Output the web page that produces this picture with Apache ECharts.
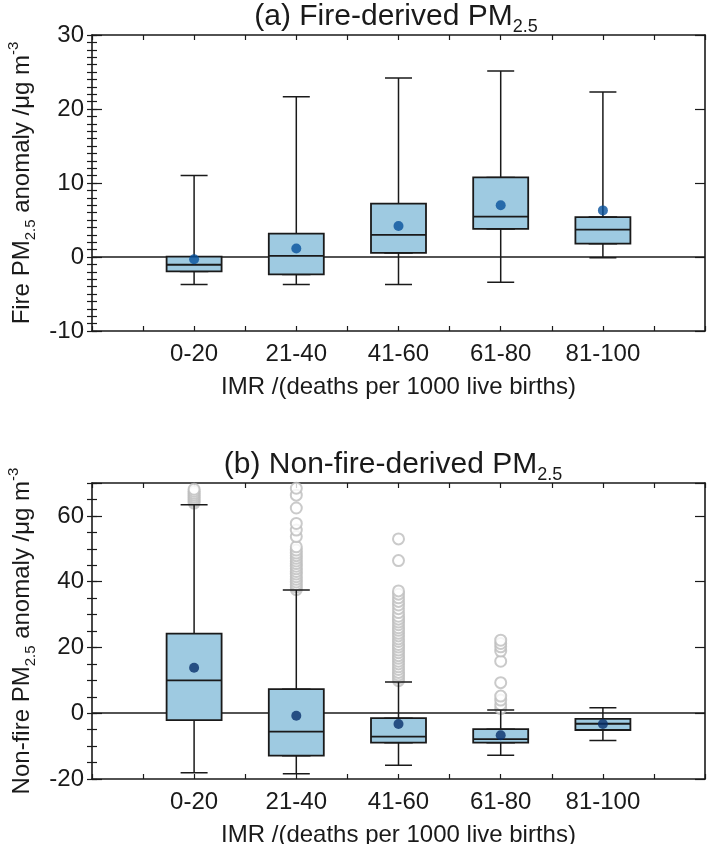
<!DOCTYPE html>
<html>
<head>
<meta charset="UTF-8">
<title>PM2.5 anomaly by IMR</title>
<script src="https://cdn.jsdelivr.net/npm/echarts@6/dist/echarts.min.js"></script>
<style>
  html, body { margin: 0; padding: 0; background: #fff; }
  #chart { width: 709px; height: 844px; }
</style>
</head>
<body>
<div id="chart"></div>
<script>
// IMR classes (deaths per 1000 live births)
var categories = ['0-20', '21-40', '41-60', '61-80', '81-100'];

// (a) fire-derived PM2.5 anomaly
var fireLow = [-3.7, -3.7, -3.7, -3.4, -0.1];
var fireQ1 = [-1.95, -2.35, 0.55, 3.8, 1.8];
var fireMedian = [-1.05, 0.15, 3.0, 5.45, 3.7];
var fireQ3 = [0.05, 3.15, 7.2, 10.75, 5.4];
var fireHigh = [11.0, 21.65, 24.2, 25.15, 22.3];
var fireMean = [-0.3, 1.15, 4.2, 7.0, 6.3];

// (b) non-fire-derived PM2.5 anomaly
var nonFireLow = [-18.1, -18.4, -15.8, -12.8, -8.3];
var nonFireQ1 = [-2.1, -12.9, -8.95, -8.95, -5.1];
var nonFireMedian = [10.0, -5.6, -7.1, -7.9, -3.2];
var nonFireQ3 = [24.2, 7.3, -1.5, -4.85, -1.7];
var nonFireHigh = [63.4, 37.5, 9.5, 1.0, 1.7];
var nonFireMean = [13.8, -0.75, -3.3, -6.7, -3.3];

// outliers of (b), one list per IMR class
var outliers020 = [63.9, 64.5, 65.1, 65.7, 66.3, 66.9, 67.5, 68.1];
var outliers2140 = [37.6, 38.4, 39.1, 39.9, 40.7, 41.5, 42.3, 43.1, 43.9, 44.7, 45.5, 46.3,
  47.1, 47.9, 48.7, 49.6, 50.6, 53.7, 55.7, 57.7, 62.4, 66.3, 68.4];
var outliers4160 = [9.9, 10.7, 11.6, 12.4, 13.3, 14.1, 15.0, 15.8, 16.7, 17.5, 18.4, 19.2,
  20.1, 20.9, 21.8, 22.6, 23.5, 24.3, 25.2, 26.0, 26.9, 27.7, 28.6, 29.5, 30.6, 31.8,
  32.9, 34.0, 35.1, 36.2, 37.2, 46.4, 53.0];
var outliers6180 = [1.4, 2.6, 4.0, 5.2, 9.3, 15.8, 18.9, 20.2, 21.2, 22.2];
var outliers81100 = [];

var fireTicks = { min: -10, max: 30, major: 10, minor: 1 };
var nonFireTicks = { min: -20, max: 70, major: 20, minor: 5 };

var INK = '#1a1a1a';
var BOX_FILL = '#9ecae1';
var FONT = '"Liberation Sans", Arial, Helvetica, sans-serif';

var chart = echarts.init(document.getElementById('chart'));

function nameRich(size) {
  return {
    n: { fontSize: size, lineHeight: 32, color: INK, fontFamily: FONT },
    s: { fontSize: Math.round(size * 0.62), lineHeight: 15, verticalAlign: 'bottom', color: INK, fontFamily: FONT },
    p: { fontSize: Math.round(size * 0.62), lineHeight: 15, verticalAlign: 'top', color: INK, fontFamily: FONT }
  };
}

function lineStyle(w) {
  return { color: INK, width: w };
}

var grids = [];
var xAxes = [];
var yAxes = [];
var series = [];

function addPanel(top, ticks, yName, low, q1, med, q3, high, mean, meanColor, outlierLists) {
  var g = grids.length;
  // outer grid: frame, ticks, names
  grids.push({ left: 92, top: top, width: 613, height: 296, outerBoundsMode: 'none', containLabel: false });
  // inner grid: the five IMR classes
  grids.push({ left: 143, top: top, width: 511, height: 296, outerBoundsMode: 'none', containLabel: false });

  var xBottom = xAxes.length;
  xAxes.push({
    type: 'value', gridIndex: g, position: 'bottom', min: 0, max: 6, interval: 0.5,
    axisLine: { show: true, onZero: false, lineStyle: lineStyle(1.6) },
    axisTick: { show: true, inside: true, length: 5, lineStyle: lineStyle(1.2) },
    axisLabel: { show: false }, splitLine: { show: false },
    name: 'IMR /(deaths per 1000 live births)', nameLocation: 'middle', nameGap: 44,
    nameTextStyle: { fontSize: 24, color: INK, fontFamily: FONT }
  });
  xAxes.push({
    type: 'value', gridIndex: g, position: 'top', min: 0, max: 6, interval: 0.5,
    axisLine: { show: true, onZero: false, lineStyle: lineStyle(1.6) },
    axisTick: { show: true, inside: true, length: 5, lineStyle: lineStyle(1.2) },
    axisLabel: { show: false }, splitLine: { show: false }
  });
  var xInner = xAxes.length;
  xAxes.push({
    type: 'category', gridIndex: g + 1, position: 'bottom', data: categories,
    axisLine: { show: false }, axisTick: { show: false }, splitLine: { show: false },
    axisLabel: { margin: 11, fontSize: 24, color: INK, fontFamily: FONT }
  });
  // second category axis so the wide boxes are not dodged against the whiskers
  var xInnerBox = xAxes.length;
  xAxes.push({
    type: 'category', gridIndex: g + 1, position: 'bottom', data: categories, show: false
  });

  var yLeft = yAxes.length;
  yAxes.push({
    type: 'value', gridIndex: g, position: 'left', min: ticks.min, max: ticks.max, interval: ticks.major,
    axisLine: { show: true, onZero: false, lineStyle: lineStyle(1.6) },
    axisTick: { show: true, inside: true, length: 10, lineStyle: lineStyle(1.2) },
    axisLabel: {
      margin: 8, fontSize: 24, color: INK, fontFamily: FONT,
      formatter: function (v) { return (v - ticks.min) % ticks.major === 0 ? String(v) : ''; }
    },
    splitLine: { show: false },
    name: yName, nameLocation: 'middle', nameGap: 54,
    nameTextStyle: { rich: nameRich(24) }
  });
  yAxes.push({
    type: 'value', gridIndex: g, position: 'left', min: ticks.min, max: ticks.max, interval: ticks.minor,
    axisLine: { show: false }, axisLabel: { show: false }, splitLine: { show: false },
    axisTick: { show: true, inside: true, length: 5, lineStyle: lineStyle(1.2) }
  });
  yAxes.push({
    type: 'value', gridIndex: g, position: 'right', min: ticks.min, max: ticks.max, interval: ticks.major,
    axisLine: { show: true, onZero: false, lineStyle: lineStyle(1.6) },
    axisTick: { show: true, inside: true, length: 10, lineStyle: lineStyle(1.2) },
    axisLabel: { show: false }, splitLine: { show: false }
  });
  yAxes.push({
    type: 'value', gridIndex: g, position: 'right', min: ticks.min, max: ticks.max, interval: ticks.minor,
    axisLine: { show: false }, axisLabel: { show: false }, splitLine: { show: false },
    axisTick: { show: true, inside: true, length: 5, lineStyle: lineStyle(1.2) }
  });
  var yInner = yAxes.length;
  yAxes.push({ type: 'value', gridIndex: g + 1, min: ticks.min, max: ticks.max, show: false });

  // zero reference line under the boxes
  series.push({
    type: 'line', xAxisIndex: xBottom, yAxisIndex: yLeft, data: [], silent: true, z: 1,
    markLine: {
      silent: true, z: 1, symbol: 'none', label: { show: false },
      lineStyle: { color: INK, width: 1.6, type: 'solid' },
      emphasis: { disabled: true },
      data: [{ yAxis: 0 }]
    }
  });

  var whiskerData = [];
  var boxData = [];
  var meanData = [];
  for (var i = 0; i < categories.length; i++) {
    whiskerData.push([low[i], q1[i], med[i], q3[i], high[i]]);
    boxData.push([q1[i], q1[i], med[i], q3[i], q3[i]]);
    meanData.push([categories[i], mean[i]]);
  }

  if (outlierLists) {
    var outData = [];
    for (var c = 0; c < outlierLists.length; c++) {
      for (var k = 0; k < outlierLists[c].length; k++) {
        outData.push([categories[c], outlierLists[c][k]]);
      }
    }
    series.push({
      type: 'scatter', xAxisIndex: xInner, yAxisIndex: yInner, z: 2, silent: true,
      symbol: 'emptyCircle', symbolSize: 11,
      itemStyle: { color: '#bdbdbd', borderColor: '#bdbdbd', borderWidth: 1.6 },
      data: outData
    });
  }

  // whiskers with short caps
  series.push({
    type: 'boxplot', xAxisIndex: xInner, yAxisIndex: yInner, z: 3, silent: true,
    boxWidth: [27, 27],
    itemStyle: { color: BOX_FILL, borderColor: INK, borderWidth: 1.5 },
    data: whiskerData
  });
  // interquartile boxes
  series.push({
    type: 'boxplot', xAxisIndex: xInnerBox, yAxisIndex: yInner, z: 4, silent: true,
    boxWidth: [55, 55],
    itemStyle: { color: BOX_FILL, borderColor: INK, borderWidth: 1.8 },
    data: boxData
  });
  // means
  series.push({
    type: 'scatter', xAxisIndex: xInner, yAxisIndex: yInner, z: 5, silent: true,
    symbol: 'circle', symbolSize: 10,
    itemStyle: { color: meanColor },
    data: meanData
  });
}

addPanel(35, fireTicks, '{n|Fire PM}{s|2.5}{n| anomaly /μg m}{p|-3}',
  fireLow, fireQ1, fireMedian, fireQ3, fireHigh, fireMean, '#08519c', null);
addPanel(483, nonFireTicks, '{n|Non-fire PM}{s|2.5}{n| anomaly /μg m}{p|-3}',
  nonFireLow, nonFireQ1, nonFireMedian, nonFireQ3, nonFireHigh, nonFireMean, '#08306b',
  [outliers020, outliers2140, outliers4160, outliers6180, outliers81100]);

function titleText(x, y, main) {
  return {
    type: 'text', x: x, y: y, silent: true,
    style: {
      text: '{n|' + main + '}{s|2.5}',
      align: 'center', verticalAlign: 'middle',
      rich: {
        n: { fontSize: 30, lineHeight: 38, fill: INK, fontFamily: FONT },
        s: { fontSize: 18, lineHeight: 18, verticalAlign: 'bottom', fill: INK, fontFamily: FONT }
      }
    }
  };
}

var option = {
  animation: false,
  backgroundColor: '#ffffff',
  textStyle: { fontFamily: FONT },
  grid: grids,
  xAxis: xAxes,
  yAxis: yAxes,
  series: series,
  graphic: [
    titleText(396, 17, '(a) Fire-derived PM'),
    titleText(393, 465, '(b) Non-fire-derived PM')
  ]
};

chart.setOption(option);
</script>
</body>
</html>
